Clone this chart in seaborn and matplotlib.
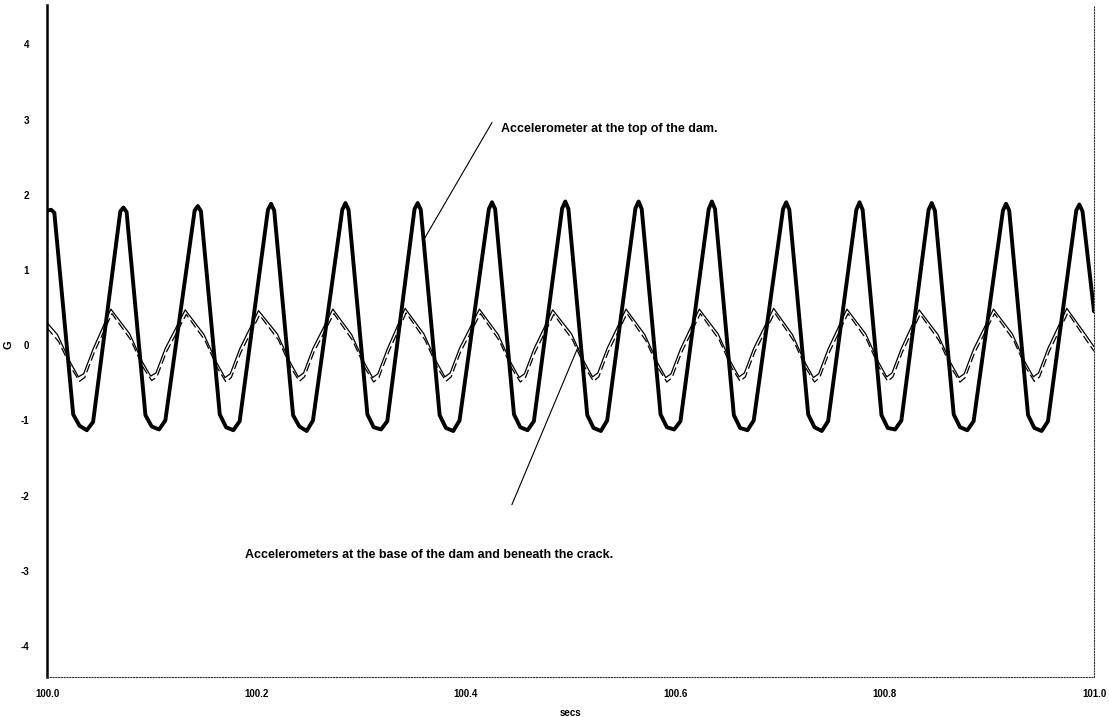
"""
Dam accelerometer traces (G vs secs), top of dam vs base / beneath crack
"""

import numpy as np
import pandas as pd
import matplotlib
matplotlib.use('Agg')
import matplotlib.pyplot as plt
import seaborn as sns

# Accelerometer at the top of the dam (thick trace), secs and G
top_t = [100.000, 100.004, 100.007, 100.025, 100.031, 100.038, 100.044,
         100.070, 100.073, 100.076, 100.094, 100.100, 100.107, 100.113,
         100.141, 100.144, 100.147, 100.165, 100.171, 100.178, 100.184,
         100.211, 100.214, 100.217, 100.235, 100.241, 100.248, 100.254,
         100.282, 100.285, 100.288, 100.306, 100.312, 100.319, 100.325,
         100.351, 100.354, 100.357, 100.375, 100.381, 100.388, 100.394,
         100.422, 100.425, 100.428, 100.446, 100.452, 100.459, 100.465,
         100.492, 100.495, 100.498, 100.516, 100.522, 100.529, 100.535,
         100.562, 100.565, 100.568, 100.586, 100.592, 100.599, 100.605,
         100.632, 100.635, 100.638, 100.656, 100.662, 100.669, 100.675,
         100.703, 100.706, 100.709, 100.727, 100.733, 100.740, 100.746,
         100.773, 100.776, 100.779, 100.797, 100.803, 100.810, 100.816,
         100.842, 100.845, 100.848, 100.866, 100.872, 100.879, 100.885,
         100.913, 100.916, 100.919, 100.937, 100.943, 100.950, 100.956,
         100.983, 100.986, 100.989, 101.000]
top_g = [1.79, 1.80, 1.76, -0.92, -1.07, -1.13, -1.02,
         1.78, 1.83, 1.77, -0.93, -1.08, -1.12, -1.00,
         1.79, 1.85, 1.78, -0.92, -1.09, -1.13, -1.01,
         1.80, 1.88, 1.79, -0.93, -1.08, -1.14, -1.00,
         1.80, 1.89, 1.80, -0.92, -1.09, -1.12, -1.01,
         1.81, 1.89, 1.80, -0.93, -1.10, -1.14, -1.00,
         1.81, 1.90, 1.81, -0.92, -1.09, -1.13, -1.01,
         1.82, 1.91, 1.81, -0.93, -1.10, -1.14, -1.00,
         1.82, 1.91, 1.81, -0.92, -1.09, -1.12, -1.01,
         1.81, 1.91, 1.81, -0.93, -1.10, -1.13, -1.00,
         1.81, 1.90, 1.80, -0.92, -1.09, -1.14, -1.01,
         1.80, 1.90, 1.80, -0.93, -1.10, -1.12, -1.00,
         1.80, 1.89, 1.79, -0.92, -1.09, -1.13, -1.01,
         1.79, 1.88, 1.79, -0.93, -1.10, -1.14, -1.01,
         1.79, 1.87, 1.78, 0.45]

# Accelerometer at the base of the dam (thin solid trace)
base_t = [100.000, 100.010, 100.022, 100.030, 100.035, 100.044,
          100.061, 100.079, 100.091, 100.099, 100.104, 100.113,
          100.132, 100.150, 100.162, 100.170, 100.175, 100.184,
          100.202, 100.220, 100.232, 100.240, 100.245, 100.254,
          100.273, 100.291, 100.303, 100.311, 100.316, 100.325,
          100.342, 100.360, 100.372, 100.380, 100.385, 100.394,
          100.413, 100.431, 100.443, 100.451, 100.456, 100.465,
          100.483, 100.501, 100.513, 100.521, 100.526, 100.535,
          100.553, 100.571, 100.583, 100.591, 100.596, 100.605,
          100.623, 100.641, 100.653, 100.661, 100.666, 100.675,
          100.694, 100.712, 100.724, 100.732, 100.737, 100.746,
          100.764, 100.782, 100.794, 100.802, 100.807, 100.816,
          100.833, 100.851, 100.863, 100.871, 100.876, 100.885,
          100.904, 100.922, 100.934, 100.942, 100.947, 100.956,
          100.974, 100.992, 101.000]
base_g = [0.30, 0.14, -0.22, -0.42, -0.38, -0.05,
          0.48, 0.15, -0.22, -0.41, -0.37, -0.04,
          0.47, 0.14, -0.23, -0.43, -0.38, -0.05,
          0.46, 0.15, -0.22, -0.42, -0.37, -0.04,
          0.48, 0.14, -0.23, -0.43, -0.38, -0.05,
          0.49, 0.15, -0.22, -0.42, -0.37, -0.04,
          0.48, 0.14, -0.23, -0.43, -0.38, -0.05,
          0.47, 0.15, -0.22, -0.42, -0.37, -0.04,
          0.48, 0.14, -0.23, -0.43, -0.38, -0.05,
          0.48, 0.15, -0.22, -0.42, -0.37, -0.04,
          0.49, 0.14, -0.23, -0.43, -0.38, -0.05,
          0.48, 0.15, -0.22, -0.42, -0.37, -0.04,
          0.47, 0.14, -0.23, -0.43, -0.38, -0.05,
          0.48, 0.15, -0.22, -0.42, -0.37, -0.04,
          0.49, 0.14, -0.02]

# Accelerometer beneath the crack (thin dashed trace)
crack_t = [100.000, 100.011, 100.023, 100.031, 100.036, 100.045,
           100.062, 100.080, 100.092, 100.100, 100.105, 100.114,
           100.133, 100.151, 100.163, 100.171, 100.176, 100.185,
           100.203, 100.221, 100.233, 100.241, 100.246, 100.255,
           100.274, 100.292, 100.304, 100.312, 100.317, 100.326,
           100.343, 100.361, 100.373, 100.381, 100.386, 100.395,
           100.414, 100.432, 100.444, 100.452, 100.457, 100.466,
           100.484, 100.502, 100.514, 100.522, 100.527, 100.536,
           100.554, 100.572, 100.584, 100.592, 100.597, 100.606,
           100.624, 100.642, 100.654, 100.662, 100.667, 100.676,
           100.695, 100.713, 100.725, 100.733, 100.738, 100.747,
           100.765, 100.783, 100.795, 100.803, 100.808, 100.817,
           100.834, 100.852, 100.864, 100.872, 100.877, 100.886,
           100.905, 100.923, 100.935, 100.943, 100.948, 100.957,
           100.975, 100.993, 101.000]
crack_g = [0.23, 0.05, -0.30, -0.48, -0.43, -0.10,
           0.42, 0.07, -0.30, -0.47, -0.42, -0.09,
           0.41, 0.06, -0.31, -0.49, -0.43, -0.10,
           0.40, 0.07, -0.30, -0.48, -0.42, -0.09,
           0.42, 0.06, -0.31, -0.49, -0.43, -0.10,
           0.43, 0.07, -0.30, -0.48, -0.42, -0.09,
           0.42, 0.06, -0.31, -0.49, -0.43, -0.10,
           0.41, 0.07, -0.30, -0.48, -0.42, -0.09,
           0.42, 0.06, -0.31, -0.49, -0.43, -0.10,
           0.42, 0.07, -0.30, -0.48, -0.42, -0.09,
           0.43, 0.06, -0.31, -0.49, -0.43, -0.10,
           0.42, 0.07, -0.30, -0.48, -0.42, -0.09,
           0.41, 0.06, -0.31, -0.49, -0.43, -0.10,
           0.42, 0.07, -0.30, -0.48, -0.42, -0.09,
           0.43, 0.06, -0.08]

x_ticks = [100.0, 100.2, 100.4, 100.6, 100.8, 101.0]
y_ticks = [-4, -3, -2, -1, 0, 1, 2, 3, 4]

top_note = 'Accelerometer at the top of the dam.'
base_note = 'Accelerometers at the base of the dam and beneath the crack.'


def main():
    sns.set_style('white')
    plt.rcParams['font.family'] = ['Liberation Sans', 'DejaVu Sans']
    # seaborn greys the text by default; the original is pure black
    plt.rcParams['text.color'] = 'black'
    plt.rcParams['xtick.color'] = 'black'
    plt.rcParams['ytick.color'] = 'black'
    plt.rcParams['axes.labelcolor'] = 'black'

    fig = plt.figure(figsize=(11.09, 7.17), dpi=100)
    ax = fig.add_axes([0.0424, 0.0558, 0.9441, 0.937])

    top_df = pd.DataFrame({'secs': top_t, 'G': top_g})
    base_df = pd.DataFrame({'secs': base_t, 'G': base_g})
    crack_df = pd.DataFrame({'secs': crack_t, 'G': crack_g})

    sns.lineplot(data=crack_df, x='secs', y='G', ax=ax, color='black',
                 linewidth=0.9, linestyle=(0, (7, 3)))
    sns.lineplot(data=base_df, x='secs', y='G', ax=ax, color='black',
                 linewidth=0.9)
    sns.lineplot(data=top_df, x='secs', y='G', ax=ax, color='black',
                 linewidth=2.8)

    ax.set_xlim(100.0, 101.0)
    ax.set_ylim(-4.41, 4.52)
    ax.set_xticks(x_ticks)
    ax.set_xticklabels([f'{v:.1f}' for v in x_ticks], fontsize=7,
                       fontweight='bold', color='black')
    ax.set_yticks(y_ticks)
    ax.set_yticklabels([str(v) for v in y_ticks], fontsize=7,
                       fontweight='bold', color='black')
    ax.tick_params(length=0, pad=9)
    ax.tick_params(axis='y', pad=13)

    ax.set_xlabel('secs', fontsize=7, fontweight='bold', labelpad=6,
                  color='black')
    ax.set_ylabel('')
    # y label sits close to the figure edge
    fig.text(9 / 1109, 1 - 345 / 717, 'G', rotation=90, fontsize=8,
             fontweight='bold', ha='center', va='center', color='black')

    # spines: solid left axis, dotted frame elsewhere
    ax.spines['left'].set_linewidth(1.8)
    ax.spines['left'].set_color('black')
    for side in ['bottom', 'right']:
        ax.spines[side].set_linestyle((0, (1, 1.5)))
        ax.spines[side].set_linewidth(0.8)
        ax.spines[side].set_color('#333333')
    ax.spines['top'].set_visible(False)

    # callouts
    ax.plot([100.425, 100.361], [2.96, 1.43], color='black', linewidth=0.8)
    ax.text(100.434, 2.88, top_note, fontsize=9, fontweight='bold',
            ha='left', va='center', color='black')
    ax.plot([100.444, 100.507], [-2.12, -0.03], color='black', linewidth=0.8)
    ax.text(100.189, -2.79, base_note, fontsize=9, fontweight='bold',
            ha='left', va='center', color='black')

    fig.savefig('out.png', dpi=100)
    plt.close(fig)


if __name__ == '__main__':
    main()
